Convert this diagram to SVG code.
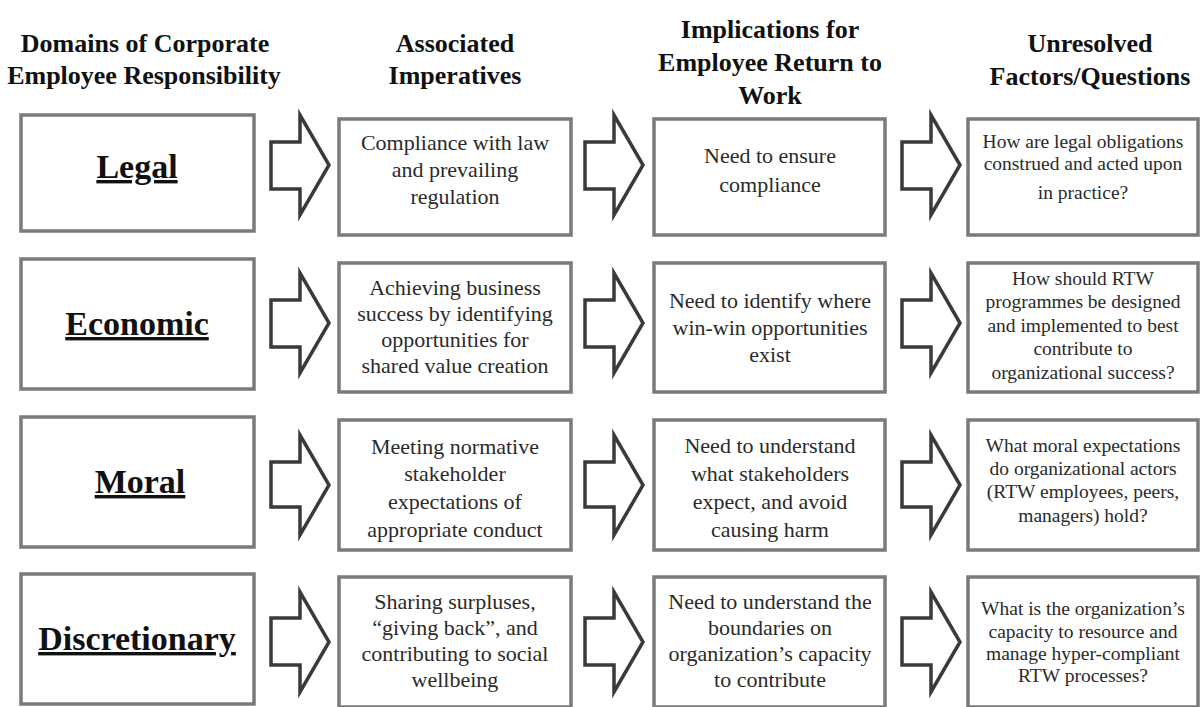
<svg xmlns="http://www.w3.org/2000/svg" width="1202" height="707" viewBox="0 0 1202 707">
<style>
.hd{font-family:"Liberation Serif","Times New Roman",serif;font-weight:bold;font-size:26px;fill:#111;text-anchor:middle}
.box{fill:#fff;stroke:#7a7a7a;stroke-width:3.5}
.dom{font-family:"Liberation Serif","Times New Roman",serif;font-weight:bold;font-size:34px;fill:#111;text-anchor:middle;text-decoration:underline}
.t{font-family:"Liberation Serif","Times New Roman",serif;font-size:22px;fill:#2a2a2a;text-anchor:middle}
.q{font-family:"Liberation Serif","Times New Roman",serif;font-size:19.5px;fill:#2a2a2a;text-anchor:middle}
.arr{fill:#fff;stroke:#3a3a3a;stroke-width:3.5;stroke-linejoin:miter}
</style>
<rect width="1202" height="707" fill="#fff"/>
<g id="headers">
<text class="hd" x="145" y="52">Domains of Corporate</text>
<text class="hd" x="144" y="84">Employee Responsibility</text>
<text class="hd" x="455" y="52">Associated</text>
<text class="hd" x="455" y="84">Imperatives</text>
<text class="hd" x="770" y="38">Implications for</text>
<text class="hd" x="770" y="71">Employee Return to</text>
<text class="hd" x="770" y="104">Work</text>
<text class="hd" x="1090" y="52">Unresolved</text>
<text class="hd" x="1090" y="85">Factors/Questions</text>
</g>
<g id="connectors">
<path class="arr" d="M271,142 H300 V115 L329,165 L300,215 V189 H271 Z"/>
<path class="arr" d="M585,142 H614 V115 L643,165 L614,215 V189 H585 Z"/>
<path class="arr" d="M902,142 H931 V115 L960,165 L931,215 V189 H902 Z"/>
<path class="arr" d="M271,300 H300 V273 L329,323 L300,373 V347 H271 Z"/>
<path class="arr" d="M585,300 H614 V273 L643,323 L614,373 V347 H585 Z"/>
<path class="arr" d="M902,300 H931 V273 L960,323 L931,373 V347 H902 Z"/>
<path class="arr" d="M271,462 H300 V435 L329,485 L300,535 V507 H271 Z"/>
<path class="arr" d="M585,462 H614 V435 L643,485 L614,535 V507 H585 Z"/>
<path class="arr" d="M902,462 H931 V435 L960,485 L931,535 V507 H902 Z"/>
<path class="arr" d="M271,618 H300 V592 L329,642 L300,692 V665 H271 Z"/>
<path class="arr" d="M585,618 H614 V592 L643,642 L614,692 V665 H585 Z"/>
<path class="arr" d="M902,618 H931 V592 L960,642 L931,692 V665 H902 Z"/>
</g>
<g id="legal">
<rect class="box" x="21" y="115" width="233" height="116"/>
<text class="dom" x="137" y="178">Legal</text>
</g>
<g id="economic">
<rect class="box" x="21" y="259" width="233" height="130"/>
<text class="dom" x="137" y="335">Economic</text>
</g>
<g id="moral">
<rect class="box" x="21" y="417" width="233" height="130"/>
<text class="dom" x="140" y="493">Moral</text>
</g>
<g id="discretionary">
<rect class="box" x="21" y="574" width="233" height="130"/>
<text class="dom" x="137" y="650">Discretionary</text>
</g>
<g id="imp-legal">
<rect class="box" x="339" y="119" width="232" height="116"/>
<text class="t" x="455" y="150">Compliance with law</text>
<text class="t" x="455" y="177">and prevailing</text>
<text class="t" x="455" y="204">regulation</text>
</g>
<g id="imp-economic">
<rect class="box" x="339" y="263" width="232" height="129"/>
<text class="t" x="455" y="295">Achieving business</text>
<text class="t" x="455" y="321">success by identifying</text>
<text class="t" x="455" y="347">opportunities for</text>
<text class="t" x="455" y="373">shared value creation</text>
</g>
<g id="imp-moral">
<rect class="box" x="339" y="420" width="232" height="130"/>
<text class="t" x="455" y="454">Meeting normative</text>
<text class="t" x="455" y="481">stakeholder</text>
<text class="t" x="455" y="509">expectations of</text>
<text class="t" x="455" y="537">appropriate conduct</text>
</g>
<g id="imp-discretionary">
<rect class="box" x="339" y="577" width="232" height="130"/>
<text class="t" x="455" y="609">Sharing surpluses,</text>
<text class="t" x="455" y="635">“giving back”, and</text>
<text class="t" x="455" y="661">contributing to social</text>
<text class="t" x="455" y="687">wellbeing</text>
</g>
<g id="rtw-legal">
<rect class="box" x="654" y="119" width="231" height="116"/>
<text class="t" x="770" y="163">Need to ensure</text>
<text class="t" x="770" y="192">compliance</text>
</g>
<g id="rtw-economic">
<rect class="box" x="654" y="263" width="231" height="129"/>
<text class="t" x="770" y="308">Need to identify where</text>
<text class="t" x="770" y="335">win-win opportunities</text>
<text class="t" x="770" y="362">exist</text>
</g>
<g id="rtw-moral">
<rect class="box" x="654" y="420" width="231" height="130"/>
<text class="t" x="770" y="453">Need to understand</text>
<text class="t" x="770" y="481">what stakeholders</text>
<text class="t" x="770" y="509">expect, and avoid</text>
<text class="t" x="770" y="537">causing harm</text>
</g>
<g id="rtw-discretionary">
<rect class="box" x="654" y="577" width="231" height="130"/>
<text class="t" x="770" y="609">Need to understand the</text>
<text class="t" x="770" y="635">boundaries on</text>
<text class="t" x="770" y="661">organization’s capacity</text>
<text class="t" x="770" y="687">to contribute</text>
</g>
<g id="q-legal">
<rect class="box" x="968" y="119" width="230" height="116"/>
<text class="q" x="1083" y="148">How are legal obligations</text>
<text class="q" x="1083" y="170">construed and acted upon</text>
<text class="q" x="1083" y="199">in practice?</text>
</g>
<g id="q-economic">
<rect class="box" x="968" y="263" width="230" height="129"/>
<text class="q" x="1083" y="285">How should RTW</text>
<text class="q" x="1083" y="308">programmes be designed</text>
<text class="q" x="1083" y="332">and implemented to best</text>
<text class="q" x="1083" y="355">contribute to</text>
<text class="q" x="1083" y="379">organizational success?</text>
</g>
<g id="q-moral">
<rect class="box" x="968" y="420" width="230" height="130"/>
<text class="q" x="1083" y="452">What moral expectations</text>
<text class="q" x="1083" y="475">do organizational actors</text>
<text class="q" x="1083" y="498">(RTW employees, peers,</text>
<text class="q" x="1083" y="522">managers) hold?</text>
</g>
<g id="q-discretionary">
<rect class="box" x="968" y="577" width="230" height="130"/>
<text class="q" x="1083" y="615">What is the organization’s</text>
<text class="q" x="1083" y="638">capacity to resource and</text>
<text class="q" x="1083" y="660">manage hyper-compliant</text>
<text class="q" x="1083" y="682">RTW processes?</text>
</g>
</svg>
